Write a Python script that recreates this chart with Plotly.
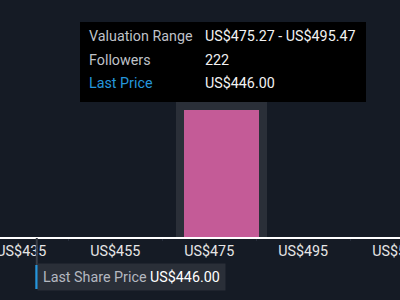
import plotly.graph_objects as go

# ---- data ----
tick_values = [435, 455, 475, 495, 515]
tick_labels = ["US$435", "US$455", "US$475", "US$495", "US$515"]
minor_tick_values = [445, 465, 485, 505]
bin_centers = [477.6]
bin_heights = [0.536]
valuation_low = 475.27
valuation_high = 495.47
followers = 222
last_price = 446.00
last_price_axis_pos = 438.3

# ---- style ----
BG = "#151b25"
BAND = "#2a2f38"
PINK = "#c45b97"
BLUE = "#2596dc"
FONT = "Roboto"
H = 237.0  # plot-area height in px

def py(p):
    return (H - p) / H

fig = go.Figure()
# highlight band behind the bar
fig.add_trace(go.Bar(x=bin_centers, y=[0.9], width=19.2, marker=dict(color=BAND, line_width=0),
                     hoverinfo="skip", showlegend=False))
fig.add_trace(go.Bar(x=bin_centers, y=bin_heights, width=16,
                     marker=dict(color=PINK, line_width=0, cornerradius=4),
                     hoverinfo="skip", showlegend=False))

fig.update_layout(
    width=400, height=300, margin=dict(l=0, r=0, t=0, b=63, autoexpand=False),
    paper_bgcolor=BG, plot_bgcolor=BG, barmode="overlay", bargap=0,
    font=dict(family=FONT, size=14, color="#e8e8e8"),
    xaxis=dict(range=[430.47, 515.6], tickmode="array", tickvals=tick_values, ticktext=tick_labels,
               ticklabeloverflow="allow", automargin=False,
               showgrid=False, zeroline=False, showline=True, linecolor="#ffffff", linewidth=1.6,
               ticks="", tickfont=dict(size=14.3, color="#e6e6e6"), fixedrange=True,
               minor=dict(tickvals=minor_tick_values, ticks="outside", ticklen=2, tickcolor="#262d3b")),
    yaxis=dict(range=[0, 1], visible=False, fixedrange=True, automargin=False),
)

# last price marker line + label
fig.add_shape(type="line", xref="x", yref="paper", x0=last_price_axis_pos, x1=last_price_axis_pos,
              y0=py(238), y1=py(265), line=dict(color="#3a3f48", width=2))
fig.add_annotation(xref="x", yref="paper", x=last_price_axis_pos, y=py(277), xanchor="left", yanchor="middle",
                   showarrow=False, bgcolor=BAND, borderpad=5, xshift=0,
                   text=f"<span style='color:#b4b8c0'>Last Share Price</span> US${last_price:.2f}",
                   font=dict(size=14.3, color="#ffffff"))
fig.add_shape(type="line", xref="x", yref="paper", x0=last_price_axis_pos, x1=last_price_axis_pos,
              y0=py(265), y1=py(289), line=dict(color=BLUE, width=3))

# tooltip box
fig.add_shape(type="rect", xref="paper", yref="paper", x0=80/400, x1=366/400, y0=py(102), y1=py(22),
              fillcolor="#000000", line_width=0, layer="above")
labels = ["Valuation Range", "Followers", "Last Price"]
values = [f"US${valuation_low:.2f} - US${valuation_high:.2f}", f"{followers}", f"US${last_price:.2f}"]
label_colors = ["#bfc2c8", "#bfc2c8", BLUE]
rows_y = [36, 60, 83]
for lab, val, col, ry in zip(labels, values, label_colors, rows_y):
    fig.add_annotation(xref="paper", yref="paper", x=87/400, y=py(ry), xanchor="left", yanchor="middle",
                       showarrow=False, text=lab, font=dict(size=14.3, color=col))
    fig.add_annotation(xref="paper", yref="paper", x=203/400, y=py(ry), xanchor="left", yanchor="middle",
                       showarrow=False, text=val, font=dict(size=14.3, color="#f2f2f2"))

fig.write_html("out.html", config=dict(displayModeBar=False))
